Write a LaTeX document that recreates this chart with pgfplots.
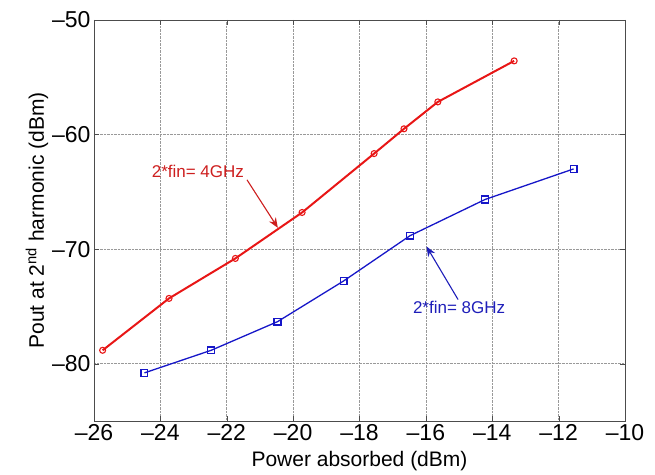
\documentclass[border=0pt]{standalone}
\usepackage{pgfplots}
\pgfplotsset{compat=1.18}
\usepackage{fontspec}
\setmainfont{Liberation Sans}
\usetikzlibrary{arrows.meta}

\definecolor{rline}{RGB}{232,22,22}
\definecolor{bline}{RGB}{22,22,200}
\definecolor{rtext}{RGB}{205,30,30}
\definecolor{btext}{RGB}{30,30,185}

\begin{document}
\begin{tikzpicture}
\begin{axis}[
    scale only axis,
    width=531pt, height=401pt,
    xmin=-26, xmax=-10, ymin=-85, ymax=-50,
    xtick={-26,-24,...,-10},
    xticklabels={–26,–24,–22,–20,–18,–16,–14,–12,–10},
    ytick={-80,-70,-60,-50},
    yticklabels={–80,–70,–60,–50},
    grid=major,
    major grid style={densely dotted, gray!80, line width=0.6pt},
    axis line style={gray!60!black, line width=0.8pt},
    tick style={gray!60!black},
    tick align=inside,
    major tick length=5pt,
    ticklabel style={font=\fontsize{23}{25}\selectfont},
    xlabel={Power absorbed (dBm)},
    ylabel={Pout at 2\textsuperscript{nd} harmonic (dBm)},
    label style={font=\fontsize{21}{23}\selectfont},
    xlabel style={yshift=-4pt},
    ylabel style={yshift=-3pt},
    clip=false,
]
\addplot[rline, line width=2pt, mark=o, mark size=3pt, mark options={line width=1.1pt}]
coordinates {
(-25.74,-78.83) (-23.74,-74.30) (-21.74,-70.81) (-19.73,-66.80)
(-17.56,-61.66) (-16.66,-59.50) (-15.64,-57.15) (-13.34,-53.57)
};
\addplot[bline, line width=1.3pt, mark=square, mark size=3.4pt, mark options={line width=1.3pt}]
coordinates {
(-24.48,-80.80) (-22.47,-78.83) (-20.47,-76.33) (-18.48,-72.78)
(-16.48,-68.83) (-14.22,-65.67) (-11.55,-63.00)
};
\node[text=rtext, font=\fontsize{17}{19}\selectfont] at (axis cs:-22.87,-63.25) {2*fin= 4GHz};
\draw[rtext, line width=1.1pt, -{Stealth[length=10pt,width=8pt]}] (axis cs:-21.39,-63.95) -- (axis cs:-20.46,-68.14);
\node[text=btext, font=\fontsize{17}{19}\selectfont] at (axis cs:-15.0,-75.1) {2*fin= 8GHz};
\draw[btext, line width=1.1pt, -{Stealth[length=10pt,width=8pt]}] (axis cs:-15.03,-74.4) -- (axis cs:-15.98,-69.77);
\path (rel axis cs:0,0) ++(-94pt,-52pt);
\path (rel axis cs:1,1) ++(30pt,20pt);
\end{axis}
\end{tikzpicture}
\end{document}
